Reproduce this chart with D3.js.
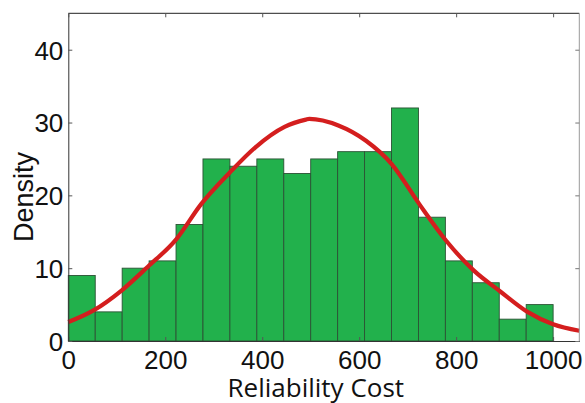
<!DOCTYPE html>
<html>
<head>
<meta charset="utf-8">
<script src="https://cdn.jsdelivr.net/npm/d3@7"></script>
<style>
  html, body { margin: 0; padding: 0; background: #fff; }
  svg { display: block; }
</style>
</head>
<body>
<svg id="chart" width="585" height="403"></svg>
<script>
// Histogram bins: 18 equal bins from 0 to 1000
const binStart = 0;
const binEnd = 1000;
const counts = [9, 4, 10, 11, 16, 25, 24, 25, 23, 25, 26, 26, 32, 17, 11, 8, 3, 5];

// Fitted density curve
const curveX = [0, 52, 111, 164, 223, 274, 334, 386, 446, 490, 497, 557, 614, 667, 724, 779, 836, 891, 947, 1000, 1054];
const curveY = [2.6, 4.2, 7.0, 10.2, 14.0, 18.8, 23.2, 26.6, 29.4, 30.4, 30.5, 29.6, 27.5, 24.3, 18.8, 13.8, 9.7, 6.8, 4.0, 2.3, 1.4];

const xTicks = [0, 200, 400, 600, 800, 1000];
const yTicks = [0, 10, 20, 30, 40];
const xDomain = [0, 1054];
const yDomain = [0, 45];
const xLabel = "Reliability Cost";
const yLabel = "Density";

const svg = d3.select("#chart");
const L = 68.3, R = 579.3, T = 13.3, B = 341;

const x = d3.scaleLinear().domain(xDomain).range([L, R]);
const y = d3.scaleLinear().domain(yDomain).range([B, T]);

const binW = (binEnd - binStart) / counts.length;
const bins = counts.map((c, i) => ({x0: binStart + i * binW, x1: binStart + (i + 1) * binW, c}));

// bars
svg.append("g").selectAll("rect").data(bins).join("rect")
  .attr("x", d => x(d.x0))
  .attr("y", d => y(d.c))
  .attr("width", d => x(d.x1) - x(d.x0))
  .attr("height", d => y(0) - y(d.c))
  .attr("fill", "#22b14c")
  .attr("stroke", "#2c5235")
  .attr("stroke-width", 0.9);

// curve
const pts = curveX.map((v, i) => [v, curveY[i]]);
svg.append("path")
  .datum(pts)
  .attr("fill", "none")
  .attr("stroke", "#d41e1e")
  .attr("stroke-width", 4.2)
  .attr("stroke-linejoin", "round")
  .attr("d", d3.line().x(d => x(d[0])).y(d => y(d[1])).curve(d3.curveMonotoneX));

// frame
svg.append("line").attr("x1", L).attr("x2", R).attr("y1", T).attr("y2", T).attr("stroke", "#222").attr("stroke-width", 1);
svg.append("line").attr("x1", R).attr("x2", R).attr("y1", T).attr("y2", B).attr("stroke", "#999").attr("stroke-width", 1);

// axes
const fontTick = "Liberation Sans, Arial, sans-serif";
const fmt = d3.format("d");
const xAxis = svg.append("g").attr("transform", `translate(0,${B})`)
  .call(d3.axisBottom(x).tickValues(xTicks).tickFormat(fmt).tickSizeInner(-4).tickSizeOuter(0).tickPadding(10));
const yAxis = svg.append("g").attr("transform", `translate(${L},0)`)
  .call(d3.axisLeft(y).tickValues(yTicks).tickFormat(fmt).tickSizeInner(-4).tickSizeOuter(0).tickPadding(5));
[xAxis, yAxis].forEach(g => {
  g.select(".domain").attr("stroke", "#333");
  g.selectAll(".tick line").attr("stroke", "#555");
  g.selectAll(".tick text").attr("fill", "#111").attr("font-family", fontTick).attr("font-size", 26);
});
xAxis.selectAll(".tick text").attr("dy", "0.68em");
yAxis.selectAll(".tick text").attr("dy", "0.36em");

// top & right ticks
svg.append("g").attr("transform", `translate(0,${T})`)
  .call(d3.axisTop(x).tickValues(xTicks).tickSizeInner(-4).tickSizeOuter(0).tickFormat(""))
  .call(g => g.select(".domain").remove())
  .call(g => g.selectAll(".tick line").attr("stroke", "#555"));
svg.append("g").attr("transform", `translate(${R},0)`)
  .call(d3.axisRight(y).tickValues(yTicks).tickSizeInner(-4).tickSizeOuter(0).tickFormat(""))
  .call(g => g.select(".domain").remove())
  .call(g => g.selectAll(".tick line").attr("stroke", "#777"));

// labels
svg.append("text")
  .attr("x", (L + R) / 2 - 8)
  .attr("y", 397)
  .attr("text-anchor", "middle")
  .attr("font-family", "Open Sans, sans-serif")
  .attr("font-size", 26)
  .attr("fill", "#111")
  .text(xLabel);

svg.append("text")
  .attr("transform", `translate(33,197) rotate(-90)`)
  .attr("text-anchor", "middle")
  .attr("font-family", fontTick)
  .attr("font-size", 27)
  .attr("fill", "#111")
  .text(yLabel);
</script>
</body>
</html>
